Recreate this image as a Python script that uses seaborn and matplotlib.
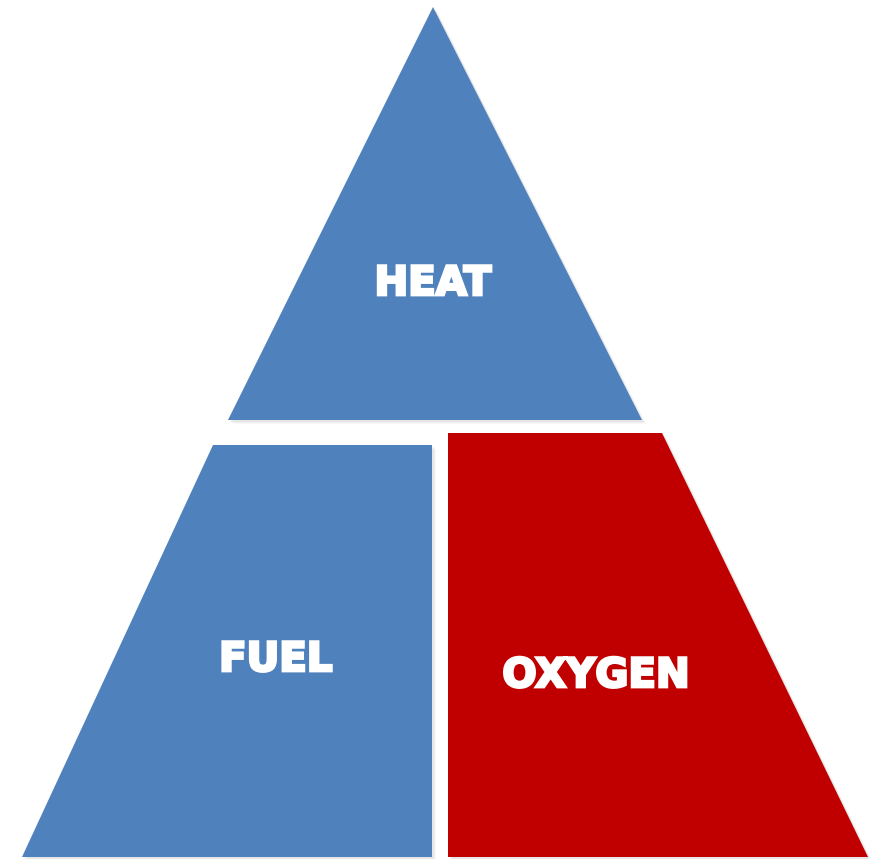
import matplotlib
matplotlib.use("Agg")
import matplotlib.pyplot as plt
import matplotlib.patheffects as pe
import seaborn as sns
from matplotlib.patches import Polygon

sns.set_theme(style="white")
plt.rcParams['font.family'] = ['DejaVu Sans']

# Fire-triangle components
labels = ["HEAT", "FUEL", "OXYGEN"]
colors = ["#4F81BD", "#4F81BD", "#C00000"]

# Polygon outlines (pixel space of the 869x859 canvas)
heat_x = [433, 642, 228]
heat_y = [7, 420, 420]
fuel_x = [213, 432, 432, 22]
fuel_y = [445, 445, 857, 857]
oxy_x = [448, 662, 868, 448]
oxy_y = [433, 433, 857, 857]
label_x = [433, 276, 596]
label_y = [284, 660, 676]

shapes = [(heat_x, heat_y), (fuel_x, fuel_y), (oxy_x, oxy_y)]

fig = plt.figure(figsize=(8.69, 8.59), dpi=100)
ax = fig.add_axes([0, 0, 1, 1])
ax.set_xlim(0, 869)
ax.set_ylim(859, 0)
ax.axis("off")

for (xs, ys), c, lab, tx, ty in zip(shapes, colors, labels, label_x, label_y):
    # soft shadow
    for k, a in [(4, 0.05), (3, 0.07), (2, 0.09)]:
        ax.add_patch(Polygon(list(zip([x + k for x in xs], [y + k for y in ys])),
                             closed=True, facecolor="#888888", edgecolor="none", alpha=a))
    ax.add_patch(Polygon(list(zip(xs, ys)), closed=True, facecolor=c, edgecolor="none"))
    ax.text(tx, ty, lab, color="white", fontsize=29, fontweight="bold",
            ha="center", va="center",
            path_effects=[pe.withStroke(linewidth=2.0, foreground="white",
                                        joinstyle="miter")])

fig.savefig("out.png", dpi=100)
